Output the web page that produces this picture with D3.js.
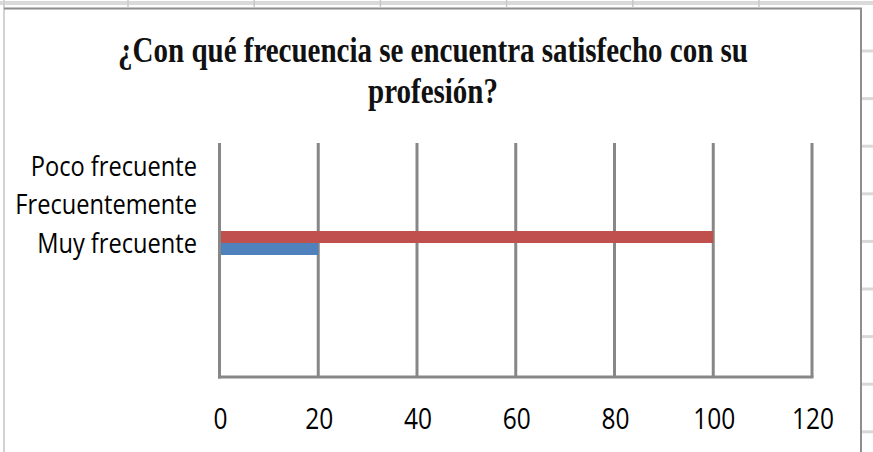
<!DOCTYPE html>
<html>
<head>
<meta charset="utf-8">
<script src="https://cdn.jsdelivr.net/npm/d3@7"></script>
<style>
  body { margin: 0; background: #ffffff; }
  svg { display: block; }
</style>
</head>
<body>
<svg id="chart" width="873" height="452"></svg>
<script>
// data
const categories = ["Muy frecuente", "Frecuentemente", "Poco frecuente"];
const seriesNames = ["Serie1", "Serie2"];
const serie1 = [20, 0, 0];   // blue
const serie2 = [100, 0, 0];  // red
const xTicks = [0, 20, 40, 60, 80, 100, 120];
const titleLines = ["¿Con qué frecuencia se encuentra satisfecho con su", "profesión?"];

const svg = d3.select("#chart");
const W = 873, H = 452;

//spreadsheet behind the chart
svg.append("rect").attr("x", 0).attr("y", 1).attr("width", W).attr("height", 4).attr("fill", "#dadada");
svg.selectAll(".colsep")
  .data(d3.range(128, W, 126.2))
  .enter().append("line")
  .attr("x1", d => d).attr("x2", d => d)
  .attr("y1", 0).attr("y2", 7)
  .attr("stroke", "#c8c8c8").attr("stroke-width", 1.5);
svg.selectAll(".rowsep")
  .data(d3.range(51, H, 47.6))
  .enter().append("line")
  .attr("x1", 861).attr("x2", W)
  .attr("y1", d => d).attr("y2", d => d)
  .attr("stroke", "#d8d8d8").attr("stroke-width", 3);

//chart frame
svg.append("rect").attr("x", 4).attr("y", 8.5).attr("width", 857).attr("height", H)
  .attr("fill", "#ffffff");
svg.append("line").attr("x1", 4).attr("x2", 4).attr("y1", 0).attr("y2", H)
  .attr("stroke", "#d2d2d2").attr("stroke-width", 2);
svg.append("line").attr("x1", 4).attr("x2", 862).attr("y1", 8.5).attr("y2", 8.5)
  .attr("stroke", "#8e8e8e").attr("stroke-width", 2);
svg.append("line").attr("x1", 861).attr("x2", 861).attr("y1", 8).attr("y2", H)
  .attr("stroke", "#8e8e8e").attr("stroke-width", 2);

// title, squeezed horizontally so the first line spans ~630px like the original
const titleText = svg.append("g").selectAll("text")
  .data(titleLines)
  .enter().append("text")
  .attr("x", 0)
  .attr("y", 0)
  .attr("text-anchor", "middle")
  .attr("font-family", "'Liberation Serif', 'DejaVu Serif', serif")
  .attr("font-weight", "bold")
  .attr("font-size", 35)
  .attr("fill", "#111")
  .text(d => d);
const titleK = 630 / titleText.node().getComputedTextLength();
titleText.attr("transform", (d, i) => `translate(433,${62 + i * 41}) scale(${titleK},1)`);

// scales
const plotTop = 143, plotBottom = 377;
const x = d3.scaleLinear().domain([0, 120]).range([219.5, 812]);
const y = d3.scaleBand().domain(categories).range([262.25, 146.75])
  .paddingInner(0.3766).paddingOuter(0.1883);
const ySub = d3.scaleBand().domain(["Serie2", "Serie1"]).range([0, y.bandwidth()]);

const condense = 0.86;

// gridlines
svg.append("g").selectAll("line")
  .data(xTicks.filter(d => d > 0))
  .enter().append("line")
  .attr("x1", d => x(d)).attr("x2", d => x(d))
  .attr("y1", plotTop).attr("y2", plotBottom)
  .attr("stroke", "#878787").attr("stroke-width", 3);

// bars
const rows = categories.map((c, i) => ({ cat: c, Serie1: serie1[i], Serie2: serie2[i] }));
const colors = { Serie1: "#4f81bd", Serie2: "#c0504d" };
const groups = svg.append("g").selectAll("g")
  .data(rows)
  .enter().append("g")
  .attr("transform", d => `translate(0,${y(d.cat)})`);
groups.selectAll("rect")
  .data(d => seriesNames.map(s => ({ key: s, value: d[s] })))
  .enter().append("rect")
  .attr("x", x(0))
  .attr("y", d => ySub(d.key))
  .attr("width", d => x(d.value) - x(0))
  .attr("height", ySub.bandwidth())
  .attr("fill", d => colors[d.key]);

// axis lines
svg.append("line").attr("x1", x(0)).attr("x2", x(0)).attr("y1", plotTop).attr("y2", plotBottom + 1.5)
  .attr("stroke", "#878787").attr("stroke-width", 3);
svg.append("line").attr("x1", x(0) - 1.5).attr("x2", x(120) + 1.5).attr("y1", plotBottom).attr("y2", plotBottom)
  .attr("stroke", "#878787").attr("stroke-width", 3);

// category labels
svg.append("g").selectAll("text")
  .data(categories)
  .enter().append("text")
  .attr("transform", d => `translate(197,${y(d) + y.bandwidth() / 2 + 9.5}) scale(${condense},1)`)
  .attr("text-anchor", "end")
  .attr("font-family", "'Open Sans', sans-serif")
  .attr("font-size", 27.5)
  .attr("fill", "#000")
  .text(d => d);

// tick labels
svg.append("g").selectAll("text")
  .data(xTicks)
  .enter().append("text")
  .attr("transform", d => `translate(${x(d) + 1},429) scale(${condense},1)`)
  .attr("text-anchor", "middle")
  .attr("font-family", "'Open Sans', sans-serif")
  .attr("font-size", 28.5)
  .attr("fill", "#000")
  .text(d => d);
</script>
</body>
</html>
